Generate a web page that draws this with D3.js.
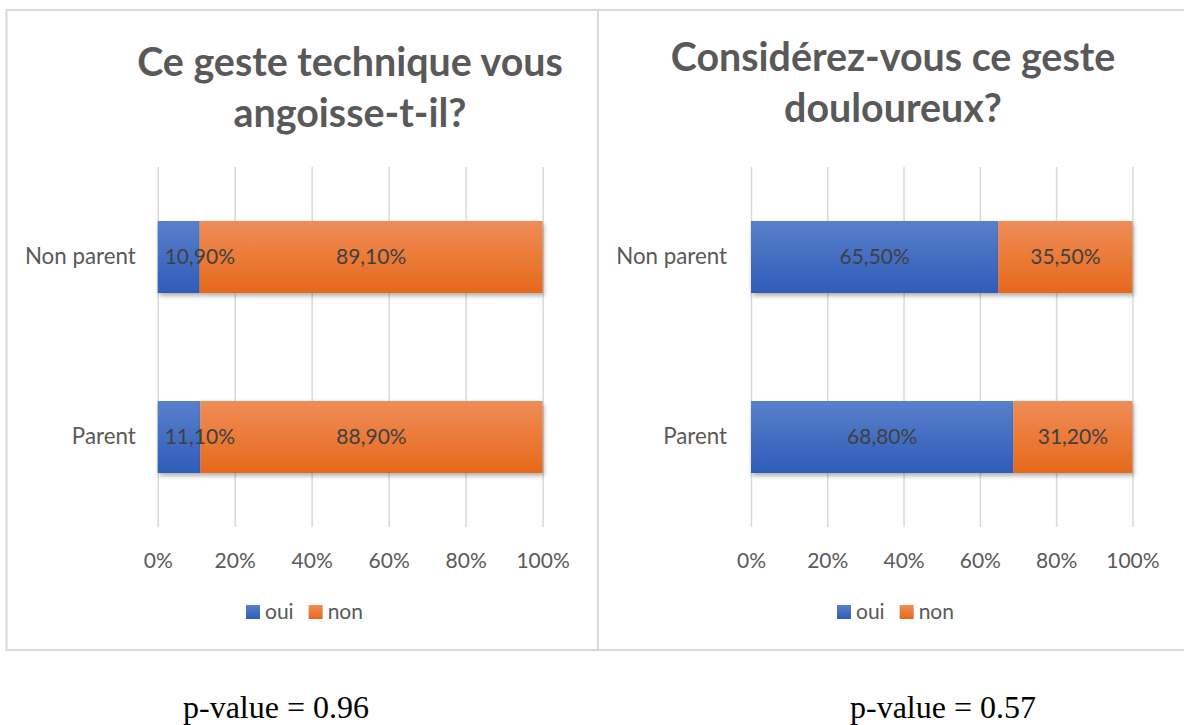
<!DOCTYPE html>
<html>
<head>
<meta charset="utf-8">
<script src="https://cdn.jsdelivr.net/npm/d3@7"></script>
<style>
  body { margin: 0; background: #fff; }
  svg { display: block; }
</style>
</head>
<body>
<div id="chart"></div>
<script>
// Data
const categories = ["Non parent", "Parent"];
const seriesNames = ["oui", "non"];
const angoisseOui = [10.9, 11.1];
const angoisseNon = [89.1, 88.9];
const douleurOui = [65.5, 68.8];
const douleurNon = [35.5, 31.2];
const tickValues = [0, 0.2, 0.4, 0.6, 0.8, 1];
const titles = [
  ["Ce geste technique vous", "angoisse-t-il?"],
  ["Considérez-vous ce geste", "douloureux?"]
];
const pValues = ["p-value = 0.96", "p-value = 0.57"];

const width = 1184;
const height = 725;

const svg = d3.select("#chart")
  .append("svg")
  .attr("width", width)
  .attr("height", height);

svg.append("rect").attr("width", width).attr("height", height).attr("fill", "#fff");

// gradients + shadow
const defs = svg.append("defs");
const grads = [
  { id: "gBlue", top: "#5a7fcb", bottom: "#2e5db9" },
  { id: "gOrange", top: "#ef8d57", bottom: "#e6691b" }
];
grads.forEach(g => {
  const lg = defs.append("linearGradient")
    .attr("id", g.id).attr("x1", 0).attr("y1", 0).attr("x2", 0).attr("y2", 1);
  lg.append("stop").attr("offset", "0%").attr("stop-color", g.top);
  lg.append("stop").attr("offset", "100%").attr("stop-color", g.bottom);
});
defs.append("filter").attr("id", "shadow")
  .attr("x", "-5%").attr("y", "-10%").attr("width", "115%").attr("height", "130%")
  .append("feDropShadow")
  .attr("dx", 1.5).attr("dy", 3).attr("stdDeviation", 2)
  .attr("flood-color", "#000").attr("flood-opacity", 0.3);

const color = d3.scaleOrdinal().domain(seriesNames).range(["url(#gBlue)", "url(#gOrange)"]);

// panel borders
svg.append("rect")
  .attr("x", 6.5).attr("y", 10).attr("width", 591.5).attr("height", 640)
  .attr("fill", "none").attr("stroke", "#d9d9d9").attr("stroke-width", 2);
svg.append("rect")
  .attr("x", 598).attr("y", 10).attr("width", 600).attr("height", 640)
  .attr("fill", "none").attr("stroke", "#d9d9d9").attr("stroke-width", 2);

const panels = [
  { oui: angoisseOui, non: angoisseNon, x0: 157.7, x1: 542.6, titleX: 350, titleY: [76, 127],
    catPad: 22, legendX: 246, pX: 276 },
  { oui: douleurOui, non: douleurNon, x0: 751, x1: 1132.4, titleX: 893, titleY: [71, 122],
    catPad: 24, legendX: 837, pX: 943 }
];

const plotTop = 167, plotBottom = 527;

panels.forEach((p, i) => {
  const g = svg.append("g");

  // title
  const t = g.append("text")
    .attr("text-anchor", "middle")
    .attr("font-family", "Lato, 'Open Sans', sans-serif")
    .attr("font-weight", "bold")
    .attr("font-size", 39.4)
    .attr("fill", "#595959");
  titles[i].forEach((line, k) => {
    t.append("tspan").attr("x", p.titleX).attr("y", p.titleY[k]).text(line);
  });

  const x = d3.scaleLinear().domain([0, 1]).range([p.x0, p.x1]);
  const y = d3.scaleBand().domain(categories).range([plotTop, plotBottom])
    .paddingInner(0.6).paddingOuter(0.3);

  // gridlines + tick labels
  const xAxis = g.append("g")
    .attr("transform", `translate(0,${plotBottom})`)
    .call(d3.axisBottom(x).tickValues(tickValues).tickFormat(d3.format(".0%"))
      .tickSize(-(plotBottom - plotTop)).tickPadding(26));
  xAxis.select(".domain").remove();
  xAxis.selectAll("line").attr("stroke", "#d9d9d9").attr("stroke-width", 1.5);
  xAxis.selectAll("text")
    .attr("font-family", "Lato, sans-serif").attr("font-size", 21).attr("fill", "#595959");

  // category labels
  const yAxis = g.append("g")
    .attr("transform", `translate(${p.x0},0)`)
    .call(d3.axisLeft(y).tickSize(0).tickPadding(p.catPad));
  yAxis.select(".domain").remove();
  yAxis.selectAll("text")
    .attr("font-family", "Lato, sans-serif").attr("font-size", 22.3).attr("fill", "#595959");

  // stacked 100% bars
  const rows = categories.map((c, j) => ({ cat: c, oui: p.oui[j], non: p.non[j] }));
  const stacked = d3.stack().keys(seriesNames).offset(d3.stackOffsetExpand)(rows);

  const layers = g.append("g").selectAll("g")
    .data(stacked).join("g")
    .attr("fill", d => color(d.key));
  layers.selectAll("rect")
    .data(d => d)
    .join("rect")
    .attr("x", d => x(d[0]))
    .attr("y", d => y(d.data.cat))
    .attr("width", d => x(d[1]) - x(d[0]))
    .attr("height", y.bandwidth())
    .attr("filter", "url(#shadow)");

  // data labels
  const labels = g.append("g");
  stacked.forEach(layer => {
    layer.forEach(d => {
      const val = d.data[layer.key];
      const txt = d3.format(".2f")(val).replace(".", ",") + "%";
      const lbl = labels.append("text")
        .attr("y", y(d.data.cat) + y.bandwidth() / 2)
        .attr("dy", "0.35em")
        .attr("font-family", "Lato, sans-serif").attr("font-size", 21)
        .attr("fill", "#404040")
        .text(txt);
      const w = lbl.node().getComputedTextLength();
      let cx = (x(d[0]) + x(d[1])) / 2;
      // keep label inside plot area, as the spreadsheet does
      cx = Math.max(cx, x(0) + 7 + w / 2);
      lbl.attr("x", cx - w / 2);
    });
  });

  // legend
  const legend = g.append("g").attr("transform", `translate(${p.legendX},605)`);
  let lx = 0;
  seriesNames.forEach(s => {
    legend.append("rect").attr("x", lx).attr("y", 0).attr("width", 14).attr("height", 14)
      .attr("fill", color(s));
    const lt = legend.append("text").attr("x", lx + 19).attr("y", 7).attr("dy", "0.35em")
      .attr("font-family", "Lato, sans-serif").attr("font-size", 21).attr("fill", "#595959")
      .text(s);
    lx += 19 + lt.node().getComputedTextLength() + 15;
  });

  // p-value below the panel
  svg.append("text")
    .attr("x", p.pX).attr("y", 718)
    .attr("text-anchor", "middle")
    .attr("font-family", "'Liberation Serif', 'Times New Roman', serif")
    .attr("font-size", 32)
    .attr("fill", "#000")
    .text(pValues[i]);
});
</script>
</body>
</html>
